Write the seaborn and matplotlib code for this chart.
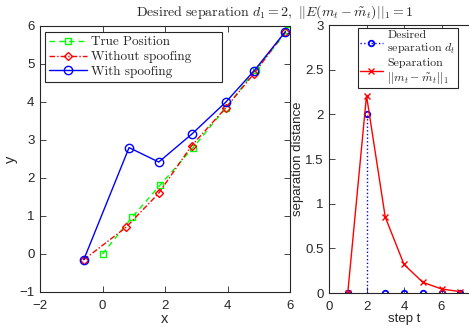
import numpy as np
import pandas as pd
import matplotlib
matplotlib.use("Agg")
import matplotlib.pyplot as plt
import seaborn as sns
from matplotlib.lines import Line2D

# ---- data ----
true_x = [0.0, 0.95, 1.85, 2.9, 3.95, 4.9, 5.95]
true_y = [0.0, 0.97, 1.82, 2.8, 3.85, 4.85, 5.9]
nospoof_x = [-0.6, 0.75, 1.8, 2.85, 3.95, 4.85, 5.85]
nospoof_y = [-0.15, 0.7, 1.6, 2.85, 3.85, 4.75, 5.85]
spoof_x = [-0.6, 0.85, 1.8, 2.85, 3.95, 4.85, 5.85]
spoof_y = [-0.15, 2.8, 2.42, 3.15, 4.0, 4.82, 5.85]

steps = [1, 2, 3, 4, 5, 6, 7]
desired_sep = [0, 2, 0, 0, 0, 0, 0]
actual_sep = [0.0, 2.21, 0.85, 0.32, 0.12, 0.045, 0.015]

left_xticks = [-2, 0, 2, 4, 6]
left_yticks = [-1, 0, 1, 2, 3, 4, 5, 6]
right_xticks = [0, 2, 4, 6]
right_yticks = [0, 0.5, 1, 1.5, 2, 2.5, 3]

title = r"$\mathrm{Desired\ separation\ }d_1 = 2,\ ||E(m_t - \tilde{m}_t)||_1 = 1$"

# ---- style ----
sns.set_style("ticks")
plt.rcParams["font.family"] = ["Liberation Sans", "DejaVu Sans"]
plt.rcParams["mathtext.fontset"] = "cm"
axcol = "#262626"
plt.rcParams["axes.edgecolor"] = axcol
plt.rcParams["xtick.color"] = axcol
plt.rcParams["ytick.color"] = axcol
plt.rcParams["axes.labelcolor"] = axcol

fig = plt.figure(figsize=(4.69, 3.30), dpi=100)
ax1 = fig.add_axes([40/469, 1-292/330, 250/469, 266/330])
ax2 = fig.add_axes([329/469, 1-293/330, 150/469, 268/330])

GREEN = (0, 1, 0)
RED = (1, 0, 0)
BLUE = (0, 0, 1)

df_true = pd.DataFrame({"x": true_x, "y": true_y})
df_no = pd.DataFrame({"x": nospoof_x, "y": nospoof_y})
df_sp = pd.DataFrame({"x": spoof_x, "y": spoof_y})

sns.lineplot(data=df_true, x="x", y="y", ax=ax1, sort=False, estimator=None,
             color=GREEN, linestyle=(0, (4, 3)), lw=1.0, marker="s", markersize=4.5,
             markerfacecolor="none", markeredgecolor=GREEN, markeredgewidth=1.0,
             label="True Position")
sns.lineplot(data=df_no, x="x", y="y", ax=ax1, sort=False, estimator=None,
             color=RED, linestyle=(0, (4, 1.5, 1, 1.5)), lw=1.0, marker="D", markersize=4.5,
             markerfacecolor="none", markeredgecolor=RED, markeredgewidth=1.0,
             label="Without spoofing")
sns.lineplot(data=df_sp, x="x", y="y", ax=ax1, sort=False, estimator=None,
             color=BLUE, linestyle="-", lw=1.0, marker="o", markersize=6,
             markerfacecolor="none", markeredgecolor=BLUE, markeredgewidth=1.0,
             label="With spoofing")

ax1.set_xlim(-2, 6)
ax1.set_ylim(-1, 6)
ax1.set_xticks(left_xticks)
ax1.set_yticks(left_yticks)
ax1.set_xlabel("x", fontsize=10.5, labelpad=0)
ax1.set_ylabel("y", fontsize=10.5, labelpad=1)
leg1 = ax1.legend(loc="upper left", bbox_to_anchor=(0.02, 0.977, 0.708, 0.0), mode="expand",
                  borderaxespad=0, prop={"family": "cmr10", "size": 9.5},
                  frameon=True, fancybox=False, edgecolor=axcol, framealpha=1,
                  handlelength=2.9, handletextpad=0.3, borderpad=0.3, labelspacing=0.2)
leg1.get_frame().set_linewidth(0.8)

# right panel
df_des = pd.DataFrame({"t": steps, "d": desired_sep})
df_act = pd.DataFrame({"t": steps, "s": actual_sep})
ax2.vlines(df_des["t"], 0, df_des["d"], colors=[BLUE], linestyles=":", lw=1.0)
sns.lineplot(data=df_des, x="t", y="d", ax=ax2, sort=False, estimator=None,
             color=BLUE, linestyle="", marker="o", markersize=4,
             markerfacecolor="none", markeredgecolor=BLUE, markeredgewidth=1.3,
             label="Desired\nseparation $d_t$")
sns.lineplot(data=df_act, x="t", y="s", ax=ax2, sort=False, estimator=None,
             color=RED, linestyle="-", lw=1.0, marker="x", markersize=5,
             markeredgecolor=RED, markeredgewidth=1.0,
             label="Separation\n$||m_t - \\tilde{m}_t||_1$")
ax2.set_xlim(0, 8)
ax2.set_ylim(0, 3)
ax2.set_xticks(right_xticks)
ax2.set_yticks(right_yticks)
ax2.set_yticklabels(["0", "0.5", "1", "1.5", "2", "2.5", "3"])
ax2.set_xlabel("step t", fontsize=9.5, labelpad=0)
ax2.set_ylabel("separation distance", fontsize=9.5, labelpad=1)
handles, labels = ax2.get_legend_handles_labels()
handles[0] = Line2D([], [], color=BLUE, linestyle=":", lw=1.0, marker="o", markersize=4,
                    markerfacecolor="none", markeredgecolor=BLUE, markeredgewidth=1.3)
handles[1] = Line2D([], [], color=RED, linestyle="-", lw=1.0, marker="x", markersize=5,
                    markeredgecolor=RED, markeredgewidth=1.0)
leg2 = ax2.legend(handles, labels, loc="upper left", bbox_to_anchor=(0.19, 0.989),
                  borderaxespad=0, prop={"family": "cmr10", "size": 8.6},
                  frameon=True, fancybox=False, edgecolor=axcol, framealpha=1,
                  handlelength=1.9, handletextpad=0.4, borderpad=0.2, labelspacing=0.15)
leg2.get_frame().set_linewidth(0.8)

for ax in (ax1, ax2):
    ax.tick_params(direction="in", top=True, right=True, length=4, width=0.6, labelsize=9.5)
    ax.tick_params(axis="x", pad=6)
    ax.tick_params(axis="y", pad=4)
    for s in ax.spines.values():
        s.set_linewidth(0.8)
        s.set_visible(True)

fig.text(275/469, 1-12/330, title, ha="center", va="center", fontsize=10)

fig.savefig("out.png", dpi=100)
